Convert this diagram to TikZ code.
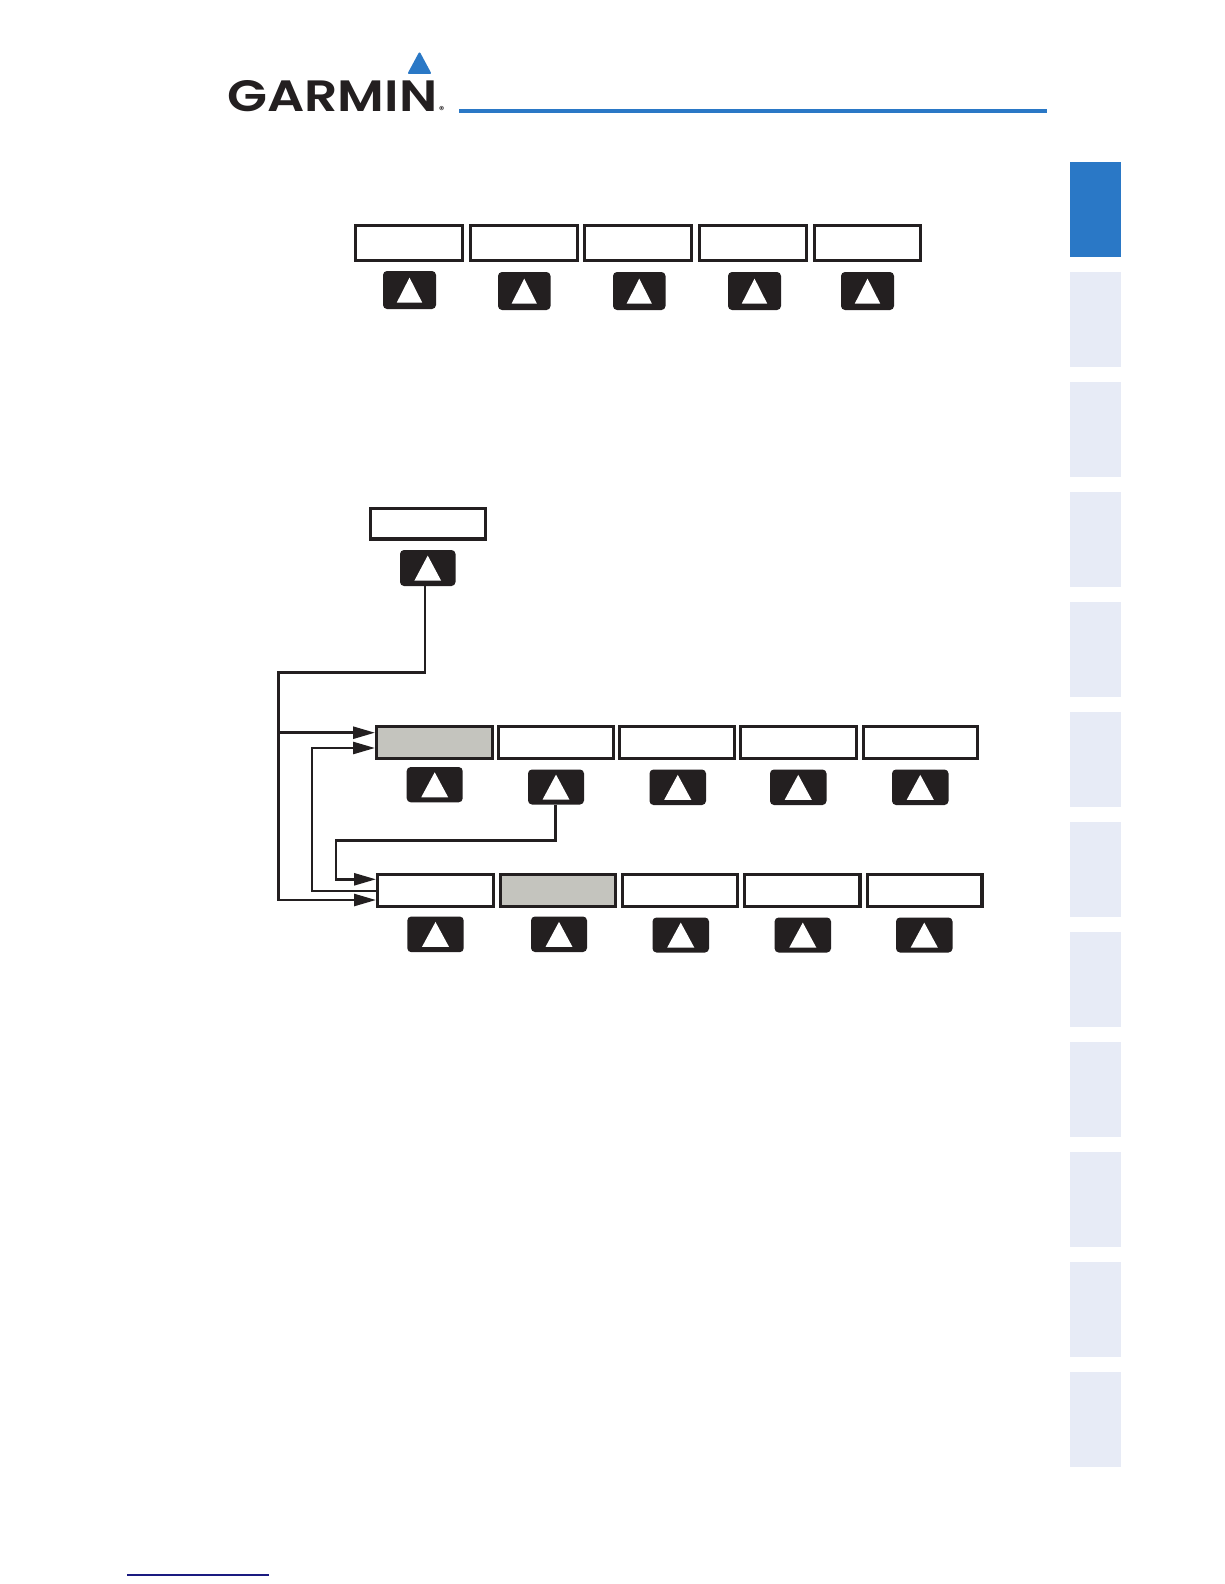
\documentclass[tikz,border=0pt]{standalone}
\usepackage{fontspec}
\usetikzlibrary{arrows.meta,calc}
\definecolor{gblue}{HTML}{2A78C6}
\definecolor{gdark}{HTML}{231F20}
\definecolor{gtab}{HTML}{E7EBF6}
\definecolor{ggray}{HTML}{C4C4BE}
\definecolor{gnavy}{HTML}{1A1A80}
\newfontfamily\logofont{Poppins SemiBold}
\tikzset{
  softbox/.style={draw=gdark,line width=3.4pt,fill=white,inner sep=0pt,outer sep=0.5\pgflinewidth},
  btnbox/.style={fill=gdark,rounded corners=4pt,inner sep=0pt,outer sep=0pt},
  btntri/.style={fill=white},
  conn/.style={draw=gdark,line width=2.6pt,line join=miter},
  arrowconn/.style={conn,-{Triangle[length=22pt,width=12pt]}},
  tabbox/.style={fill=gtab,draw=none},
}
% name, x1, y1, x2, y2 (outer edges)
\newcommand{\softbox}[6][white]{%
  \pgfmathsetmacro{\bw}{#5-#3-3.4}\pgfmathsetmacro{\bh}{#6-#4-3.4}%
  \node[softbox,fill=#1,minimum width=\bw pt,minimum height=\bh pt] (#2) at ({(#3+#5)/2},{(#4+#6)/2}) {};}
% name, x1, y1, x2, y2
\newcommand{\softbtn}[5]{%
  \pgfmathsetmacro{\bw}{#4-#2}\pgfmathsetmacro{\bh}{#5-#3}%
  \pgfmathsetmacro{\tw}{\bw*0.24}%
  \node[btnbox,minimum width=\bw pt,minimum height=\bh pt] (#1) at ({(#2+#4)/2},{(#3+#5)/2}) {};
  \fill[btntri] ($(#1.center)+(0,-12.4)$) -- ($(#1.center)+(\tw,12.6)$) -- ($(#1.center)+(-\tw,12.6)$) -- cycle;}
\begin{document}
\begin{tikzpicture}[x=1pt,y=-1pt]
\useasboundingbox (0,0) rectangle (1224,1584);
\fill[white] (0,0) rectangle (1224,1584);
% logo
\node[inner sep=0pt,anchor=south west,text=gdark] (logo) at (227,112.3) {\resizebox{210pt}{31pt}{\logofont GARMIN}};
\node[inner sep=0pt,anchor=south west,text=gdark,font=\logofont\fontsize{10}{10}\selectfont] (reg) at (439,113.5) {®};
\fill[gblue,draw=gblue,line width=2pt,line join=round] (419.5,53.5) -- (430,73) -- (409,73) -- cycle;
\fill[gblue] (459,109) rectangle (1047,113);
% side tabs
\fill[gblue] (1070,162) rectangle (1121,257);
\foreach \i in {1,...,11}{
  \fill[tabbox] (1070,{162+110*\i}) rectangle (1121,{257+110*\i});
}
% footer rule
\fill[gnavy] (127,1574.3) rectangle (269,1575.7);
% first softkey row
\softbox{ta}{354}{224}{464}{262}
\softbox{tb}{469}{224}{579}{262}
\softbox{tc}{583}{224}{693}{262}
\softbox{td}{698}{224}{808}{262}
\softbox{te}{813}{224}{922}{262}
\softbtn{tab}{383}{271}{436}{309}
\softbtn{tbb}{498}{272}{550.5}{310}
\softbtn{tcb}{613}{272}{665.5}{310}
\softbtn{tdb}{728}{272}{781}{310}
\softbtn{teb}{841}{272}{894}{310}
% single softkey
\softbox{sa}{368.5}{506.5}{487}{540.5}
\softbtn{sab}{400}{550}{455.5}{586}
% second row
\softbox[ggray]{ma}{375}{725}{494}{760}
\softbox{mb}{497}{725}{615}{760}
\softbox{mc}{618}{725}{736}{760}
\softbox{md}{739}{725}{858}{760}
\softbox{me}{861.5}{725}{979}{760}
\softbtn{mab}{406.7}{767}{462.7}{802.3}
\softbtn{mbb}{528}{769.5}{584}{804.5}
\softbtn{mcb}{649.5}{769.5}{706}{805}
\softbtn{mdb}{770}{769.5}{826.5}{805}
\softbtn{meb}{892}{769.5}{948.5}{805}
% third row
\softbox{la}{376}{873}{495}{908}
\softbox[ggray]{lb}{499}{873}{617}{908}
\softbox{lc}{621}{873}{739}{908}
\softbox{ld}{743}{873}{861.5}{908}
\softbox{le}{865.5}{873}{983.6}{908}
\softbtn{lab}{407.3}{916.5}{463.7}{952.2}
\softbtn{lbb}{531}{916.5}{587}{952}
\softbtn{lcb}{652.5}{917.5}{709}{952.5}
\softbtn{ldb}{774.6}{917.5}{831}{952.5}
\softbtn{leb}{896}{917.5}{952.5}{952.5}
% connector corners
\coordinate (c1) at (425,672.6);
\coordinate (c2) at (278.7,672.6);
\coordinate (c3) at (278.7,900);
\coordinate (c4) at (278.7,732.7);
\coordinate (c5) at (312,891);
\coordinate (c6) at (312,748);
\coordinate (c7) at (555.7,840.7);
\coordinate (c8) at (336,840.7);
\coordinate (c9) at (336,879.3);
% connectors
\draw[arrowconn] (sab.south -| c1) -- (c1) -- (c2) -- (c3) -- (c3 -| la.west);
\draw[arrowconn] (c4) -- (c4 -| ma.west);
\draw[arrowconn] (c5 -| la.west) -- (c5) -- (c6) -- (c6 -| ma.west);
\draw[arrowconn] (mbb.south -| c7) -- (c7) -- (c8) -- (c9) -- (c9 -| la.west);
\end{tikzpicture}
\end{document}
